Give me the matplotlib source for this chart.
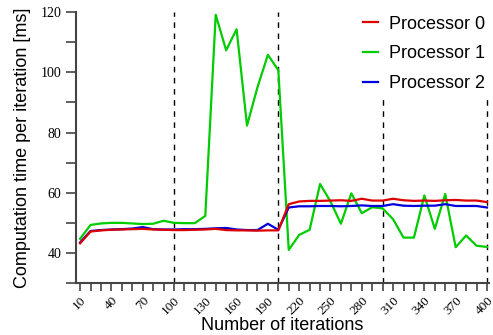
import numpy as np
import matplotlib
matplotlib.use('Agg')
import matplotlib.pyplot as plt
from matplotlib.ticker import MultipleLocator

iterations = list(range(10, 410, 10))

proc0 = [43.2, 47.1, 47.5, 47.7, 47.8, 47.9, 48.0, 47.8, 47.7, 47.6,
         47.6, 47.7, 47.8, 48.0, 47.6, 47.5, 47.5, 47.4, 47.5, 47.5,
         56.2, 57.1, 57.3, 57.3, 57.4, 57.5, 57.3, 58.0, 57.4, 57.4,
         58.0, 57.5, 57.3, 57.4, 57.3, 57.5, 57.6, 57.4, 57.4, 56.9]

proc1 = [44.7, 49.3, 49.8, 50.0, 50.0, 49.8, 49.6, 49.7, 50.7, 50.0,
         49.9, 49.9, 52.3, 119.1, 107.3, 114.3, 82.3, 95.0, 105.8, 100.7,
         41.0, 46.0, 47.7, 62.9, 57.1, 49.7, 59.8, 53.2, 55.2, 54.8,
         51.2, 45.1, 45.1, 59.1, 48.0, 59.6, 41.9, 45.8, 42.4, 42.0]

proc2 = [43.5, 47.3, 47.6, 47.8, 47.9, 48.1, 48.6, 47.9, 47.8, 47.8,
         47.9, 47.9, 48.0, 48.2, 48.3, 47.8, 47.6, 47.6, 49.7, 47.7,
         55.1, 55.5, 55.5, 55.6, 55.6, 55.5, 55.6, 55.8, 55.6, 55.6,
         56.2, 55.7, 55.6, 55.7, 55.7, 56.2, 55.6, 55.6, 55.6, 55.1]

phase_marks = [100, 200, 300, 400]
label_ticks = list(range(10, 410, 30))

fig = plt.figure(figsize=(4.93, 3.35), dpi=100)
ax = fig.add_axes([0.154, 0.155, 0.838, 0.809])

ax.plot(iterations, proc1, color='#00cc00', lw=1.6, label='Processor 1', zorder=3)
ax.plot(iterations, proc2, color='#0000dd', lw=1.6, label='Processor 2', zorder=4)
ax.plot(iterations, proc0, color='#dd0000', lw=1.6, label='Processor 0', zorder=5)

for m in phase_marks:
    ax.axvline(m, color='black', lw=1.0, ls=(0, (4, 4)), zorder=2)

ax.set_xlim(6, 402)
ax.set_ylim(30, 120)

ax.set_xticks(iterations)
ax.set_xticklabels([str(i) if i in label_ticks else '' for i in iterations],
                   rotation=45, ha='right', rotation_mode='anchor',
                   family='Liberation Serif', fontsize=9.5)
ax.yaxis.set_major_locator(MultipleLocator(20))
ax.yaxis.set_minor_locator(MultipleLocator(10))
for lab in ax.get_yticklabels():
    lab.set_family('Liberation Serif')
    lab.set_fontsize(10)

ax.tick_params(axis='both', which='both', direction='out', width=1.2, color='#444444')
ax.tick_params(axis='x', length=6, pad=2)
ax.tick_params(axis='y', which='major', length=7)
ax.tick_params(axis='y', which='minor', length=7)

ax.spines['top'].set_visible(False)
ax.spines['right'].set_visible(False)
ax.spines['left'].set_linewidth(1.5)
ax.spines['bottom'].set_linewidth(1.5)
ax.spines['left'].set_color('#444444')
ax.spines['bottom'].set_color('#444444')

ax.set_xlabel('Number of iterations', family='Liberation Sans', fontsize=13, labelpad=0)
ax.set_ylabel('Computation time per iteration [ms]', family='Liberation Sans', fontsize=13, labelpad=7)

handles, labels = ax.get_legend_handles_labels()
order = [2, 0, 1]
leg = ax.legend([handles[i] for i in order], [labels[i] for i in order],
                loc='upper right', frameon=True, fancybox=False,
                prop={'family': 'Liberation Sans', 'size': 13},
                handlelength=0.85, handletextpad=0.6, labelspacing=0.7,
                borderaxespad=0.0, borderpad=0.2)
leg.get_frame().set_edgecolor('none')
leg.get_frame().set_facecolor('white')
leg.get_frame().set_alpha(1)
leg.set_zorder(10)

fig.savefig('out.png', dpi=100)
